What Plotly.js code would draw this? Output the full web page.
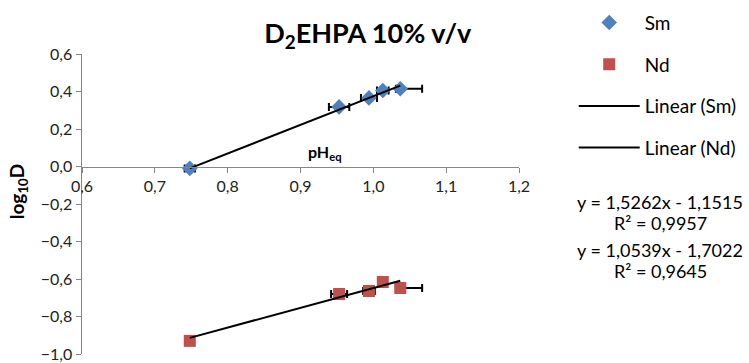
<!DOCTYPE html>
<html><head><meta charset="utf-8">
<script src="https://cdn.plot.ly/plotly-3.0.1.min.js"></script>
<style>html,body{margin:0;padding:0;background:#fff}#chart{width:749px;height:363px}</style>
</head><body><div id="chart"></div>
<script>
// Data
const smX = [0.748, 0.953, 0.994, 1.013, 1.037];
const smY = [-0.010, 0.318, 0.366, 0.405, 0.415];
const smErrPlus = [0.007, 0.014, 0.011, 0.008, 0.030];
const smErrMinus = [0.007, 0.014, 0.011, 0.008, 0.006];
const ndX = [0.748, 0.953, 0.994, 1.013, 1.037];
const ndY = [-0.930, -0.680, -0.664, -0.616, -0.648];
const ndErrPlus = [0.0, 0.011, 0.008, 0.0, 0.030];
const ndErrMinus = [0.0, 0.011, 0.008, 0.0, 0.006];
const fitSlope = [1.5262, 1.0539];
const fitIntercept = [-1.1515, -1.7022];
const fitR2 = ['0,9957', '0,9645'];
const seriesNames = ['Sm', 'Nd'];

function fitLine(xs, k) {
  const lo = Math.min(...xs), hi = Math.max(...xs);
  return {x: [lo, hi], y: [fitSlope[k]*lo + fitIntercept[k], fitSlope[k]*hi + fitIntercept[k]]};
}
const f0 = fitLine(smX, 0), f1 = fitLine(ndX, 1);
const fmt = v => Math.abs(v).toFixed(4).replace('.', ',');
const FONT = 'Lato, "Open Sans", sans-serif';

const errStyle = {type:'data', symmetric:false, color:'#000', thickness:2, width:4};
const traces = [
  {x: smX, y: smY, type:'scatter', mode:'markers', name: seriesNames[0],
   marker:{symbol:'diamond', size:12, color:'#4F81BD'},
   error_x: Object.assign({array: smErrPlus, arrayminus: smErrMinus}, errStyle),
   legendgroup:'a', legendrank:1},
  {x: ndX, y: ndY, type:'scatter', mode:'markers', name: seriesNames[1],
   marker:{symbol:'square', size:12, color:'#C0504D'},
   error_x: Object.assign({array: ndErrPlus, arrayminus: ndErrMinus}, errStyle),
   legendgroup:'b', legendrank:2},
  {x: f0.x, y: f0.y, type:'scatter', mode:'lines', name:'Linear (' + seriesNames[0] + ')',
   line:{color:'#000', width:2}, legendgroup:'c', legendrank:3},
  {x: f1.x, y: f1.y, type:'scatter', mode:'lines', name:'Linear (' + seriesNames[1] + ')',
   line:{color:'#000', width:2}, legendgroup:'d', legendrank:4}
];

const eqText = k => 'y = ' + fmt(fitSlope[k]) + 'x ' + (fitIntercept[k] < 0 ? '- ' : '+ ') + fmt(fitIntercept[k]);
const eqFont = {size: 18, color: '#000'};
const ann = (text, x, y, font, extra) => Object.assign({text, x, y, font, xref: 'paper', yref: 'paper',
  showarrow: false, xanchor: 'center', yanchor: 'middle'}, extra || {});

const layout = {
  width: 749, height: 363,
  margin: {l: 82, r: 230, t: 54, b: 9},
  paper_bgcolor: '#fff', plot_bgcolor: '#fff',
  separators: ', ',
  font: {family: FONT, size: 15, color: '#222'},
  title: {text: '<b>D<sub>2</sub>EHPA 10% v/v</b>', font: {size: 27, color: '#000', family: FONT},
          x: 0.491, xref: 'container', xanchor: 'center', y: 0.908, yref: 'container', yanchor: 'middle'},
  xaxis: {range: [0.6, 1.2], dtick: 0.1, tick0: 0.6, tickformat: '.1f', showgrid: false, zeroline: false,
          showline: true, linecolor: '#868686', linewidth: 1.5, ticks: 'outside', ticklen: 5, tickcolor: '#868686',
          anchor: 'free', position: 0.625, tickfont: {size: 16, color: '#222'}},
  yaxis: {range: [-1.0, 0.6], dtick: 0.2, tick0: -1.0, tickformat: '.1f', showgrid: false, zeroline: false,
          showline: true, linecolor: '#868686', linewidth: 1.5, ticks: 'outside', ticklen: 5, tickcolor: '#868686',
          tickfont: {size: 16, color: '#222'}},
  showlegend: true,
  legend: {xref: 'container', yref: 'container', x: 0.766, y: 0.99, xanchor: 'left', yanchor: 'top',
           font: {size: 19, color: '#000'}, tracegroupgap: 14, traceorder: 'grouped', itemwidth: 61,
           bgcolor: 'rgba(0,0,0,0)'},
  annotations: [
    ann('<b>pH<sub>eq</sub></b>', 0.557, 0.673, {size: 16, color: '#000'}),
    ann('<b>log<sub>10</sub>D</b>', -0.146, 0.54, {size: 19, color: '#000'}, {textangle: -90}),
    ann(eqText(0), 1.3227, 0.507, eqFont),
    ann('R² = ' + fitR2[0], 1.3227, 0.437, eqFont),
    ann(eqText(1), 1.3227, 0.347, eqFont),
    ann('R² = ' + fitR2[1], 1.3227, 0.277, eqFont)
  ]
};
Plotly.newPlot('chart', traces, layout, {displayModeBar: false, staticPlot: true});
</script></body></html>
